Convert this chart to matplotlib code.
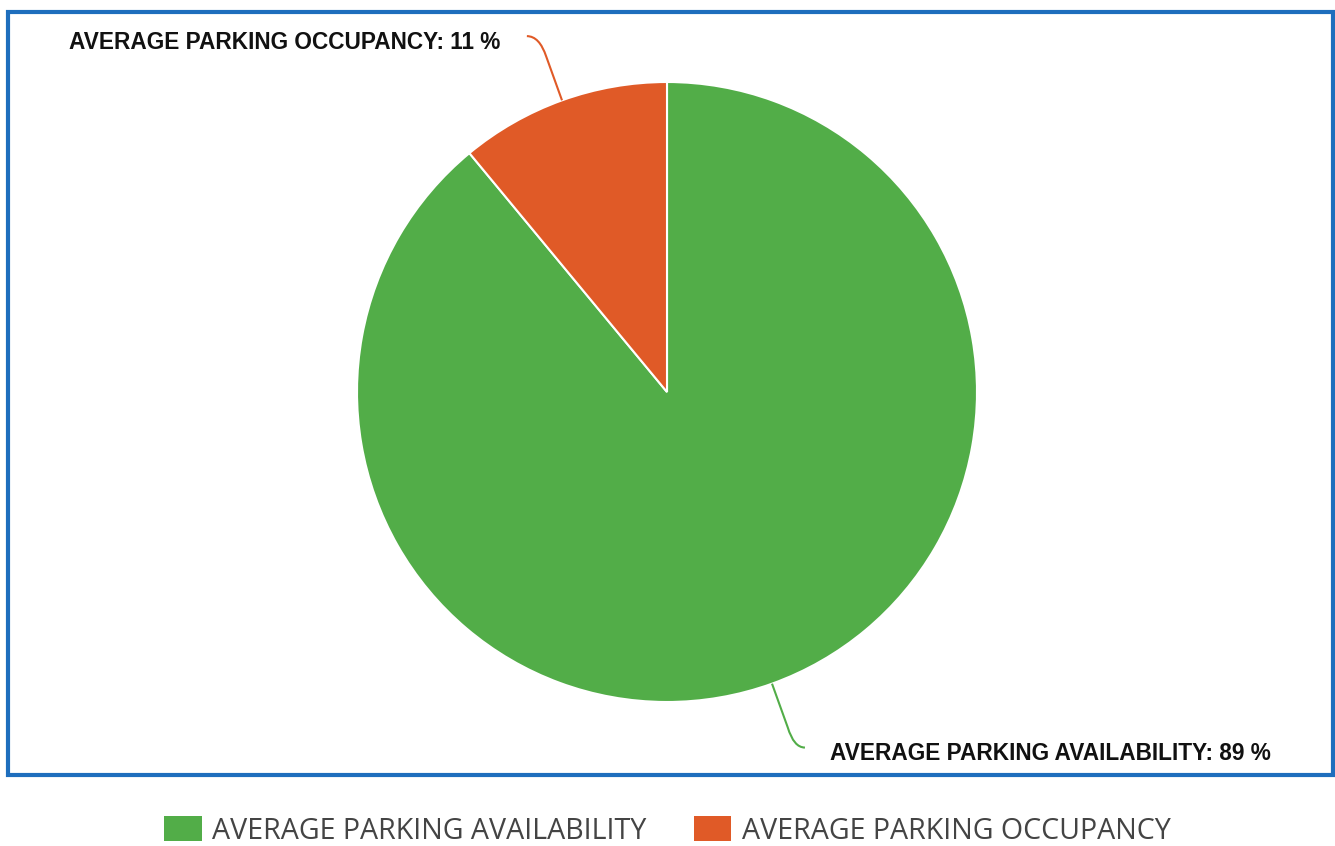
import numpy as np
import matplotlib
matplotlib.use("Agg")
import matplotlib.pyplot as plt
from matplotlib.patches import Rectangle, Patch
from matplotlib.path import Path
from matplotlib.patches import PathPatch

categories = ["AVERAGE PARKING AVAILABILITY", "AVERAGE PARKING OCCUPANCY"]
values = [89, 11]
colors = ["#52ad48", "#e05a27"]

W, H = 1335, 846
fig = plt.figure(figsize=(W / 100, H / 100), dpi=100)
ax = fig.add_axes([0, 0, 1, 1])

cx, cy, R = 667, 392, 310
wedges, _ = ax.pie(values, colors=colors, startangle=90, counterclock=False,
                   radius=1.0, center=(0, 0),
                   wedgeprops=dict(edgecolor="white", linewidth=1.5))
ax.set_aspect("auto")
ax.set_xlim((0 - cx) / R, (W - cx) / R)
ax.set_ylim((cy - H) / R, cy / R)
ax.axis("off")

# leader lines & labels
label_font = dict(family=["Liberation Sans", "DejaVu Sans"], weight="bold", fontsize=16.3, color="#111111")
specs = [
    # (wedge index, end point, text position, ha)
    (1, (-0.452, 1.148), (-0.539, 1.128), "right"),
    (0, (0.445, -1.147), (0.526, -1.166), "left"),
]
for idx, endp, tpos, ha in specs:
    w = wedges[idx]
    mid = np.deg2rad((w.theta1 + w.theta2) / 2)
    p0 = (np.cos(mid), np.sin(mid))
    p1 = (1.15 * np.cos(mid), 1.15 * np.sin(mid))
    ctrl = (p1[0] + (endp[0] - p1[0]) * 0.35, endp[1])
    path = Path([p0, p1, ctrl, endp], [Path.MOVETO, Path.LINETO, Path.CURVE3, Path.CURVE3])
    ax.add_patch(PathPatch(path, fill=False, edgecolor=colors[idx], linewidth=1.5))
    ax.text(tpos[0], tpos[1], f"{categories[idx]}: {values[idx]} %", ha=ha, va="center", **label_font)

# border
fig.patches.append(Rectangle((8 / W, 1 - 775 / H), (1333 - 8) / W, (775 - 12) / H,
                             transform=fig.transFigure, fill=False,
                             edgecolor="#1e6ebd", linewidth=3, zorder=10))

handles = [Patch(facecolor=c, edgecolor="none") for c in colors]
fig.legend(handles, categories, loc="center", bbox_to_anchor=(0.5, 1 - 831 / H),
           ncol=2, frameon=False, handlelength=1.3, handleheight=0.95,
           handletextpad=0.37, columnspacing=1.65,
           prop=dict(family=["Open Sans", "DejaVu Sans"], size=20.6),
           labelcolor="#444444")

fig.savefig("out.png", dpi=100)
